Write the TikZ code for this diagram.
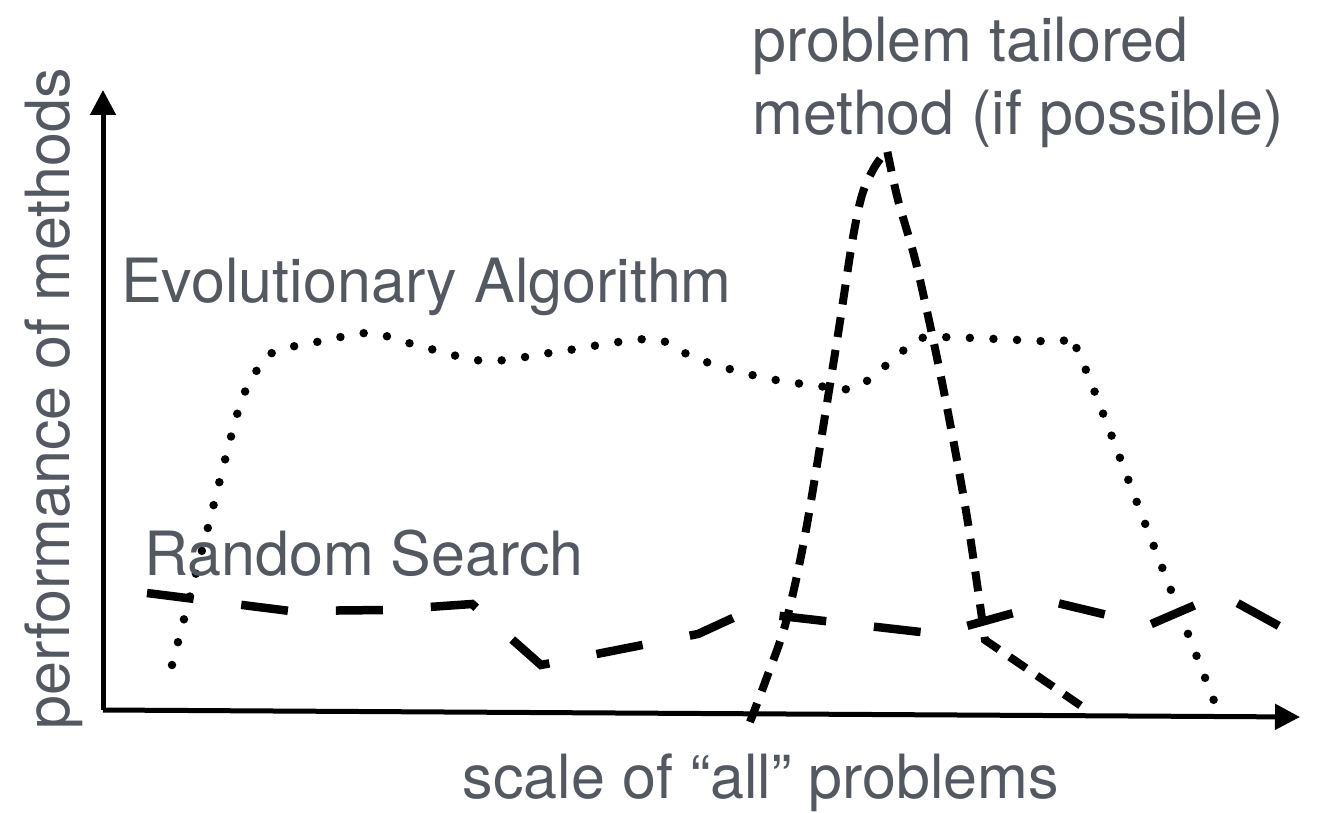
\documentclass[tikz,border=0pt]{standalone}
\usepackage{fontspec}
\setmainfont{TeX Gyre Heros}
\usepackage{tikz}
\usetikzlibrary{arrows.meta, positioning}
\definecolor{labelgray}{RGB}{84, 89, 97}

\begin{document}
\begin{tikzpicture}[
    x=1pt, y=-1pt,
    lbl/.style={font=\fontsize{61}{73}\selectfont, text=labelgray, inner sep=0pt},
    axis/.style={line width=5pt, -{Triangle[length=25pt, width=25pt]}},
    evo/.style={line width=8.5pt, line cap=round, dash pattern=on 0pt off 23.6pt},
    tailored/.style={line width=8pt, dash pattern=on 20pt off 13pt},
    randsearch/.style={line width=8.5pt, dash pattern=on 47pt off 48pt},
]
    \useasboundingbox (0,0) rectangle (1320,813);

    % Axes
    \coordinate (origin) at (103,710);
    \coordinate (ytip) at (103,90);
    \coordinate (xtip) at (1300,717);
    \draw[axis] (origin) -- (ytip);
    \draw[axis] (origin) -- (xtip);

    % Evolutionary algorithm
    \draw[evo] plot[smooth, tension=0.5] coordinates {(172,665) (206,535) (239,408) (259,367) (276,351) (322,341) (370,333) (416,345) (485,361) (556,352) (652,339) (697,359) (765,378) (836,388) (858,387) (896,357) (914,342) (936,337) (1056,342) (1076,347) (1146,526) (1216,706)};

    % Problem tailored method
    \draw[tailored] plot[smooth, tension=0.5] coordinates {(750,722) (767,677) (786,622) (806,530) (836,347) (852,243) (862,195) (874,168) (887,150)}
        -- plot[smooth, tension=0.5] coordinates {(887,150) (898,200) (917,267) (943,387) (967,517) (985,640)}
        -- (1090,712);

    % Random search
    \draw[randsearch] (147,593) -- (290,611) -- (386,610) -- (472,604) -- (541,665) -- (698,634) -- (746,612) -- (938,634) -- (1053,602) -- (1149,625) -- (1221,594) -- (1299,637);

    % Labels
    \node[lbl, anchor=base, rotate=90] (ylabel) at (69,399) {performance of methods};
    \node[lbl, anchor=base] (xlabel) at (761,798) {scale of “all” problems};
    \node[lbl, anchor=base west] (ealabel) at (121,302) {Evolutionary Algorithm};
    \node[lbl, anchor=base west] (rslabel) at (144,575) {Random Search};
    \node[lbl, anchor=base west] (ptlabel) at (752,62) {problem tailored};
    \node[lbl, anchor=base west] (pmlabel) at (752,135) {method (if possible)};

\end{tikzpicture}
\end{document}
